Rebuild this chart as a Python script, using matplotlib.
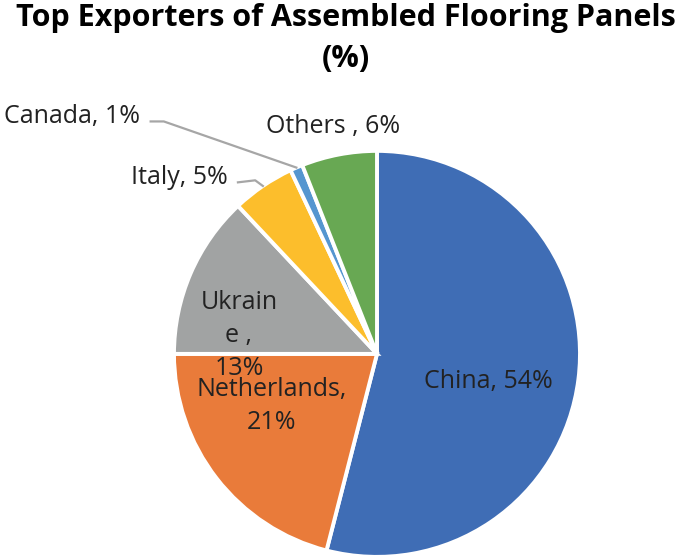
import matplotlib
matplotlib.use("Agg")
import matplotlib.pyplot as plt
import numpy as np

# ── data ──────────────────────────────────────────────────────────────────────
countries = ["China", "Netherlands", "Ukraine", "Italy", "Canada", "Others"]
shares = [54, 21, 13, 5, 1, 6]
labels = ["China, 54%", "Netherlands,\n21%", "Ukrain\ne ,\n13%",
          "Italy, 5%", "Canada, 1%", "Others , 6%"]
colors = ["#3F6DB5", "#E97B3A", "#A1A3A3", "#FCBE2C", "#5596D0", "#68A853"]

plt.rcParams["font.family"] = ["Open Sans", "DejaVu Sans"]

fig = plt.figure(figsize=(6.85, 5.58), dpi=100)
ax = fig.add_axes([0.254, 0.002, 0.5927, 0.7276])

wedges, _ = ax.pie(shares, colors=colors, startangle=90, counterclock=False,
                   radius=1, wedgeprops=dict(edgecolor="white", linewidth=2.8))
# pie() resets limits to +-1.25, so fix them afterwards
ax.set_xlim(-1, 1)
ax.set_ylim(-1, 1)
ax.set_aspect("equal")
ax.axis("off")

# label layout: (x, y, ha) in pie units, plus elbow for leader lines
layout = {
    "China":       (0.55, -0.135, "center"),
    "Netherlands": (-0.52, -0.256, "center"),
    "Ukraine":     (-0.68, 0.09, "center"),
    "Italy":       (-0.735, 0.87, "right"),
    "Canada":      (-1.165, 1.17, "right"),
    "Others":      (-0.215, 1.12, "center"),
}
leaders = {"Italy": (-0.60, 0.855), "Canada": (-1.05, 1.145)}

txt_color = "#222222"
for w, name, lab in zip(wedges, countries, labels):
    x, y, ha = layout[name]
    ax.text(x, y, lab, ha=ha, va="center", fontsize=18, color=txt_color,
            linespacing=1.42)
    if name in leaders:
        mid = np.deg2rad((w.theta1 + w.theta2) / 2)
        px, py = np.cos(mid), np.sin(mid)
        ex, ey = leaders[name]
        ax.plot([x + 0.05, ex, px], [y - 0.025, ey, py], color="#A6A6A6",
                lw=1.6, clip_on=False)

fig.text(0.505, 0.995, "Top Exporters of Assembled Flooring Panels\n(%)",
         ha="center", va="top", fontsize=22, fontweight="bold",
         color="#000000", linespacing=1.5)

fig.savefig("out.png", dpi=100)
